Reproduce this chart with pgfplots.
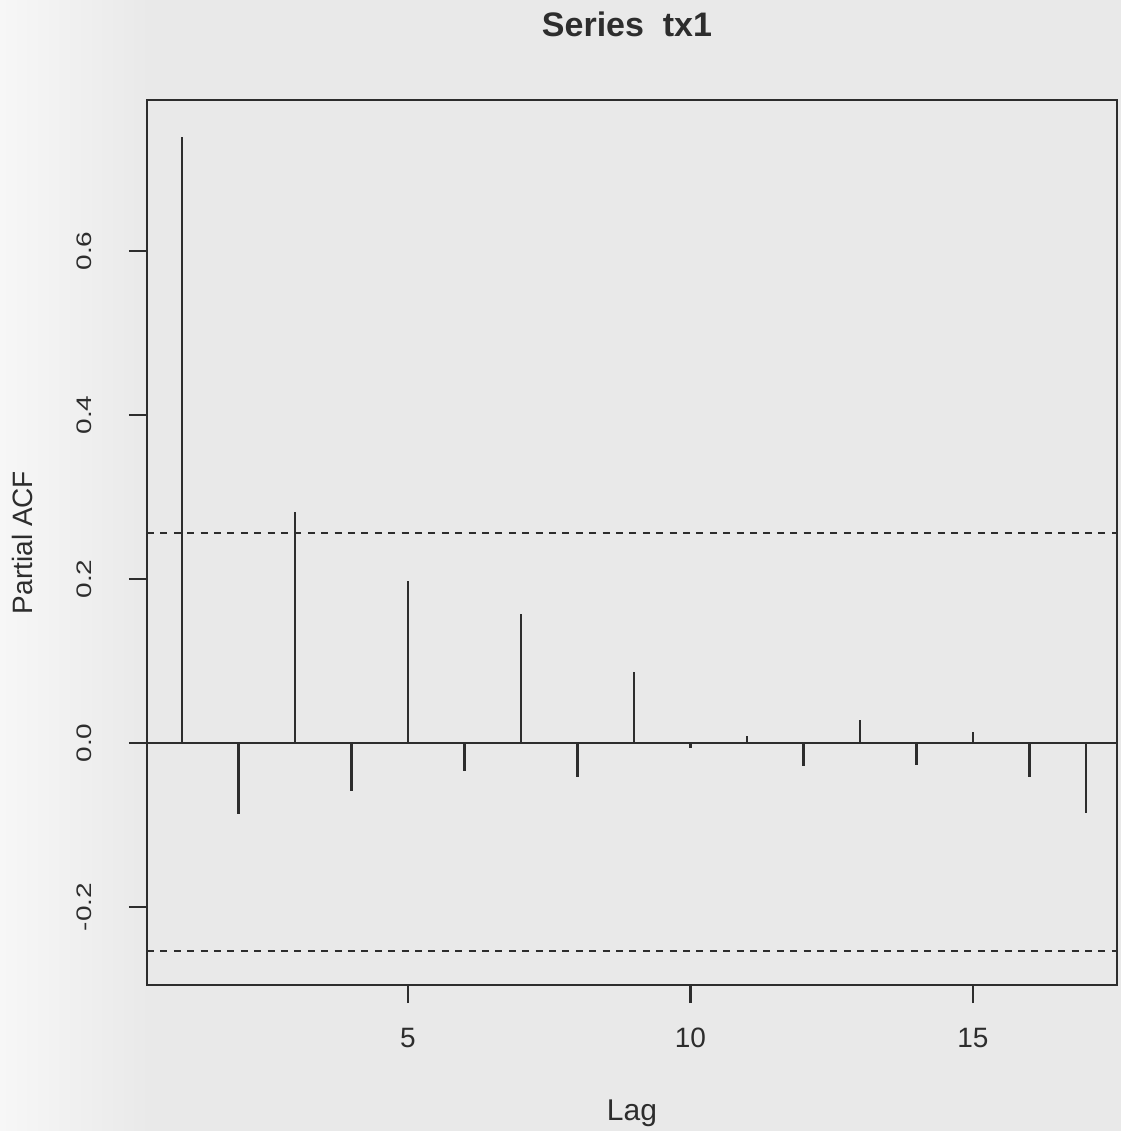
\documentclass[border=0pt]{standalone}
\usepackage{fontspec}
\setmainfont{Liberation Sans}
\usepackage{graphicx}
\usepackage{pgfplots}
\pgfplotsset{compat=1.18}
\definecolor{ink}{RGB}{45,45,45}
\definecolor{bgPaper}{RGB}{233,233,233}
\definecolor{bgLight}{RGB}{247,247,247}

% partial autocorrelations, lags 1..17
\pgfplotstableread{
lag pacf
1 0.739
2 -0.087
3 0.282
4 -0.058
5 0.197
6 -0.034
7 0.157
8 -0.041
9 0.087
10 -0.006
11 0.008
12 -0.028
13 0.028
14 -0.027
15 0.014
16 -0.042
17 -0.085
}\pacf

\newcommand{\ylab}[1]{\scalebox{1}[0.75]{#1}}

\begin{document}
\begin{tikzpicture}
\useasboundingbox (0,0) rectangle (560.5pt,565.5pt);
\fill[bgPaper] (0,0) rectangle (560.5pt,565.5pt);
\shade[left color=bgLight, right color=bgPaper] (0,0) rectangle (75pt,565.5pt);
\begin{axis}[
  at={(73.5pt,73pt)}, anchor=south west,
  scale only axis, width=485pt, height=442.5pt,
  xmin=0.38, xmax=17.55, ymin=-0.295, ymax=0.784,
  axis line style={draw=ink, line width=1.4pt},
  tick style={draw=ink, line width=1.2pt},
  tick align=outside, major tick length=9pt,
  xtick pos=bottom, ytick pos=left,
  xtick={5,10,15}, xticklabels={5,10,15},
  ytick={-0.2,0,0.2,0.4,0.6},
  yticklabels={\ylab{-0.2},\ylab{0.0},\ylab{0.2},\ylab{0.4},\ylab{0.6}},
  xticklabel style={font=\fontsize{14}{16}\selectfont, text=ink, anchor=base, yshift=-22pt},
  yticklabel style={font=\fontsize{14}{16}\selectfont, text=ink, rotate=90, anchor=base, yshift=18.5pt},
  xlabel={Lag},
  xlabel style={font=\fontsize{15}{18}\selectfont, text=ink, at={(0.5,0)}, anchor=base, yshift=-67.5pt},
  ylabel={Partial ACF},
  ylabel style={font=\fontsize{14}{17}\selectfont, text=ink, at={(0,0.5)}, rotate=0, anchor=base, yshift=57pt},
  title={Series\ \ tx1},
  title style={font=\fontsize{17}{20}\selectfont\bfseries, text=ink, at={(0.5,1)}, anchor=base, yshift=26pt, xshift=-2.5pt},
]
\addplot[ink, line width=1.2pt, forget plot] coordinates {(0.38,0) (17.55,0)};
\addplot[ink, line width=0.9pt, dash pattern=on 3.5pt off 3.2pt] coordinates {(0.38,0.256) (17.55,0.256)};
\addplot[ink, line width=0.9pt, dash pattern=on 3.5pt off 3.2pt] coordinates {(0.38,-0.254) (17.55,-0.254)};
\addplot[ycomb, ink, line width=1.4pt, no markers] table[x=lag, y=pacf] {\pacf};
\end{axis}
\end{tikzpicture}
\end{document}
